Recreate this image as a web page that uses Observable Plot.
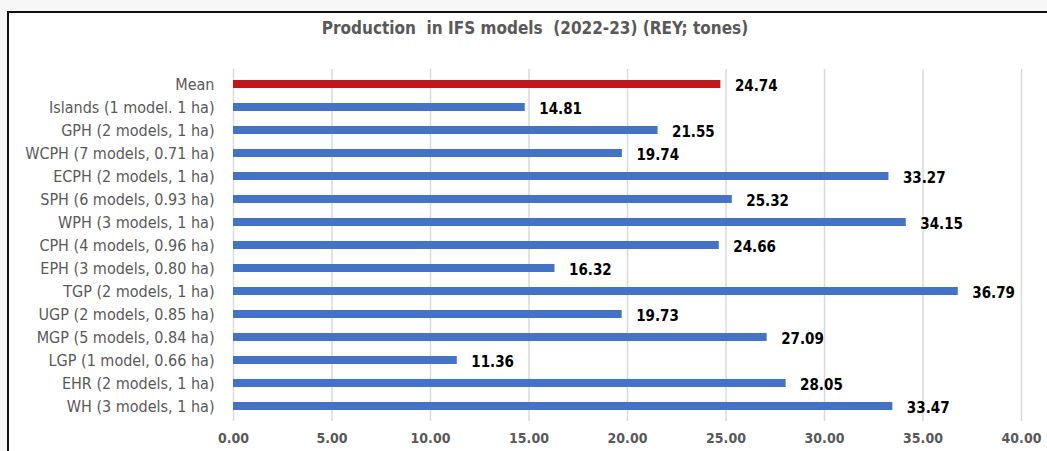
<!DOCTYPE html>
<html>
<head>
<meta charset="utf-8">
<script src="https://cdn.jsdelivr.net/npm/d3@7"></script>
<script src="https://cdn.jsdelivr.net/npm/@observablehq/plot@0.6"></script>
<style>
  html, body { margin: 0; padding: 0; background: #f7f7f7; width: 1047px; height: 451px; overflow: hidden; }
  #frame { position: absolute; left: 7px; top: 11px; width: 1100px; height: 500px; border-top: 2px solid #111; border-left: 2px solid #111; background: #fff; }
  #title { position: absolute; left: 0; top: 18px; width: 1070px; text-align: center; font-family: 'Liberation Sans Narrow', 'DejaVu Sans Condensed', 'Liberation Sans', sans-serif; font-stretch: condensed; font-weight: bold; font-size: 17px; color: #595959; white-space: pre; }
  #chart { position: absolute; left: 0; top: 50px; }
</style>
</head>
<body>
<div id="frame"></div>
<div id="title">Production  in IFS models  (2022-23) (REY; tones)</div>
<div id="chart"></div>
<script>
const categories = [
  "Mean",
  "Islands (1 model. 1 ha)",
  "GPH (2 models, 1 ha)",
  "WCPH (7 models, 0.71 ha)",
  "ECPH (2 models, 1 ha)",
  "SPH (6 models, 0.93 ha)",
  "WPH (3 models, 1 ha)",
  "CPH (4 models, 0.96 ha)",
  "EPH (3 models, 0.80 ha)",
  "TGP (2 models, 1 ha)",
  "UGP (2 models, 0.85 ha)",
  "MGP (5 models, 0.84 ha)",
  "LGP (1 model, 0.66 ha)",
  "EHR (2 models, 1 ha)",
  "WH (3 models, 1 ha)"
];
const values = [24.74, 14.81, 21.55, 19.74, 33.27, 25.32, 34.15, 24.66, 16.32, 36.79, 19.73, 27.09, 11.36, 28.05, 33.47];
const xTicks = [0, 5, 10, 15, 20, 25, 30, 35, 40];

const data = categories.map((c, i) => ({cat: c, value: values[i]}));
const font = "'Liberation Sans Narrow', 'DejaVu Sans Condensed', 'Liberation Sans', sans-serif";

const chart = Plot.plot({
  width: 1047,
  height: 401,
  marginLeft: 233,
  marginRight: 26,
  marginTop: 19,
  marginBottom: 30,
  style: {fontFamily: font, fontSize: "14px", background: "transparent", fontStretch: "condensed"},
  x: {domain: [0, 40], axis: null, label: null},
  y: {domain: categories, paddingInner: 0.636, paddingOuter: 0.34, axis: null, label: null},
  marks: [
    Plot.ruleX(xTicks, {stroke: "#d9d9d9", strokeWidth: 1.5}),
    Plot.barX(data, {x: "value", y: "cat", fill: d => d.cat === "Mean" ? "#c0171f" : "#4472c4"}),
    Plot.text(data, {x: "value", y: "cat", text: d => d.value.toFixed(2), dx: 14, dy: 1.5, textAnchor: "start", fontWeight: "bold", fill: "#000", fontSize: 15}),
    Plot.axisY({tickSize: 0, tickPadding: 19, fill: "#595959", fontSize: 16, label: null}),
    Plot.axisX({ticks: xTicks, tickSize: 0, tickPadding: 12, tickFormat: d => d.toFixed(2), fill: "#595959", fontWeight: "bold", fontSize: 14, label: null})
  ]
});
document.getElementById("chart").appendChild(chart);
</script>
</body>
</html>
